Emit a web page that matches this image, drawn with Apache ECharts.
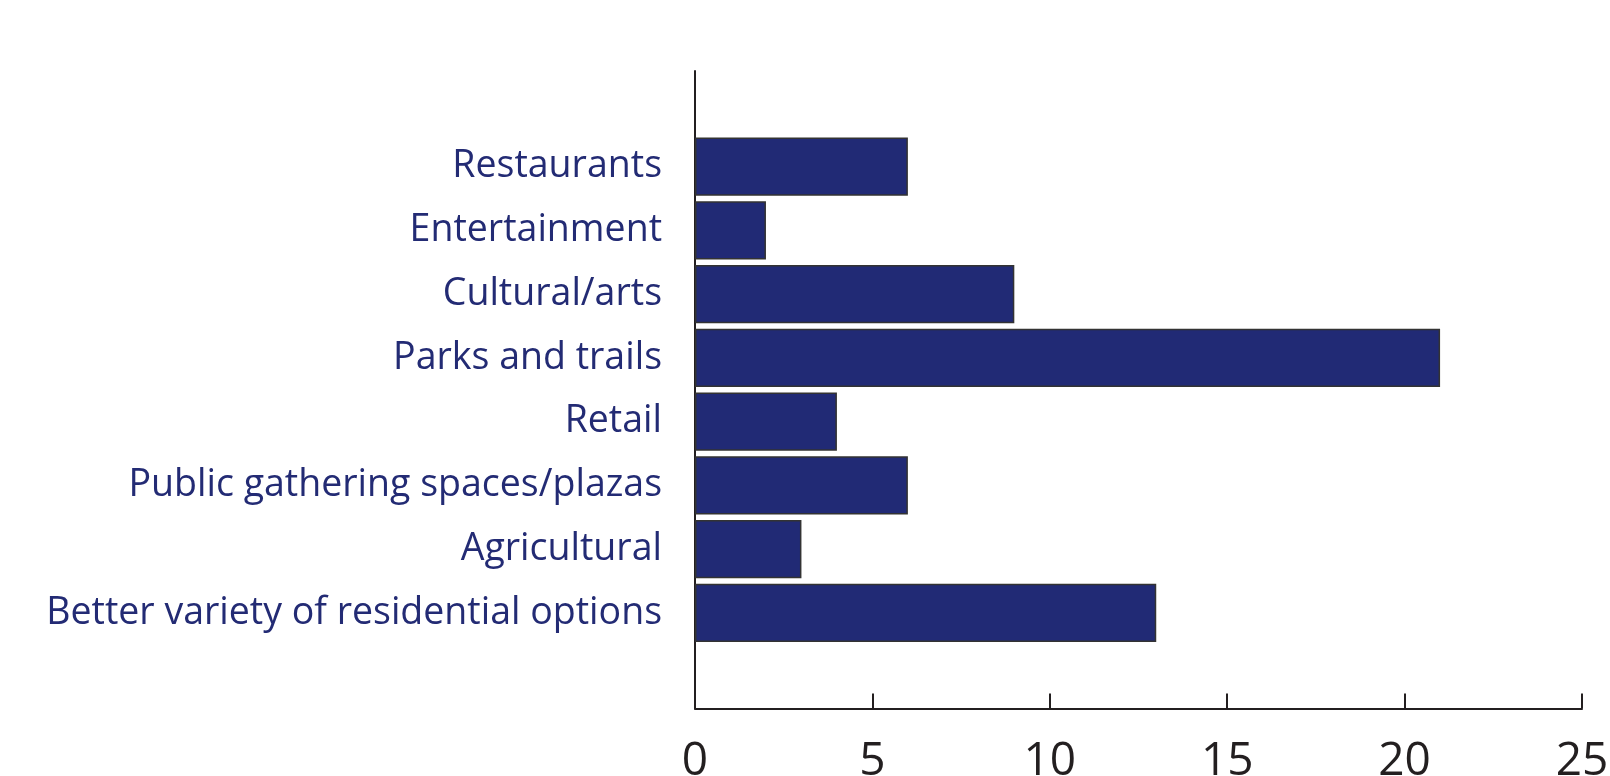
<!DOCTYPE html>
<html>
<head>
<meta charset="utf-8">
<script src="https://cdn.jsdelivr.net/npm/echarts@6/dist/echarts.min.js"></script>
<style>
  html, body { margin: 0; padding: 0; background: #fff; }
  #main { width: 1610px; height: 776px; }
</style>
</head>
<body>
<div id="main"></div>
<script>
// categories listed top to bottom as in the picture
var categories = [
  'Restaurants',
  'Entertainment',
  'Cultural/arts',
  'Parks and trails',
  'Retail',
  'Public gathering spaces/plazas',
  'Agricultural',
  'Better variety of residential options'
]
var counts = [6, 2, 9, 21, 4, 6, 3, 13]
var xTicks = [0, 5, 10, 15, 20, 25]

// blank slots at both ends give the empty space above and below the bars
var yData = [''].concat(categories, [''])
var barData = ['-'].concat(counts, ['-'])

var myChart = echarts.init(document.getElementById('main'))
myChart.setOption({
  animation: false,
  grid: {
    left: 695,
    right: 28,
    top: 71,
    bottom: 67.5,
    containLabel: false,
    outerBoundsMode: 'none'
  },
  xAxis: {
    type: 'value',
    min: xTicks[0],
    max: xTicks[xTicks.length - 1],
    interval: 5,
    splitLine: { show: false },
    axisLine: {
      show: true,
      lineStyle: { color: '#231f20', width: 2 }
    },
    axisTick: {
      show: true,
      inside: true,
      length: 15,
      lineStyle: { color: '#231f20', width: 2 }
    },
    axisLabel: {
      margin: 30,
      fontFamily: 'Open Sans',
      fontSize: 46,
      color: '#231f20'
    }
  },
  yAxis: {
    type: 'category',
    inverse: true,
    data: yData,
    axisLine: {
      show: true,
      lineStyle: { color: '#231f20', width: 2 }
    },
    axisTick: { show: false },
    axisLabel: {
      margin: 33,
      fontFamily: 'Open Sans',
      fontSize: 37.5,
      color: '#232b74'
    }
  },
  series: [{
    type: 'bar',
    data: barData,
    barCategoryGap: '9%',
    itemStyle: {
      color: '#212a75',
      borderColor: '#333333',
      borderWidth: 1.5
    }
  }]
})
</script>
</body>
</html>
